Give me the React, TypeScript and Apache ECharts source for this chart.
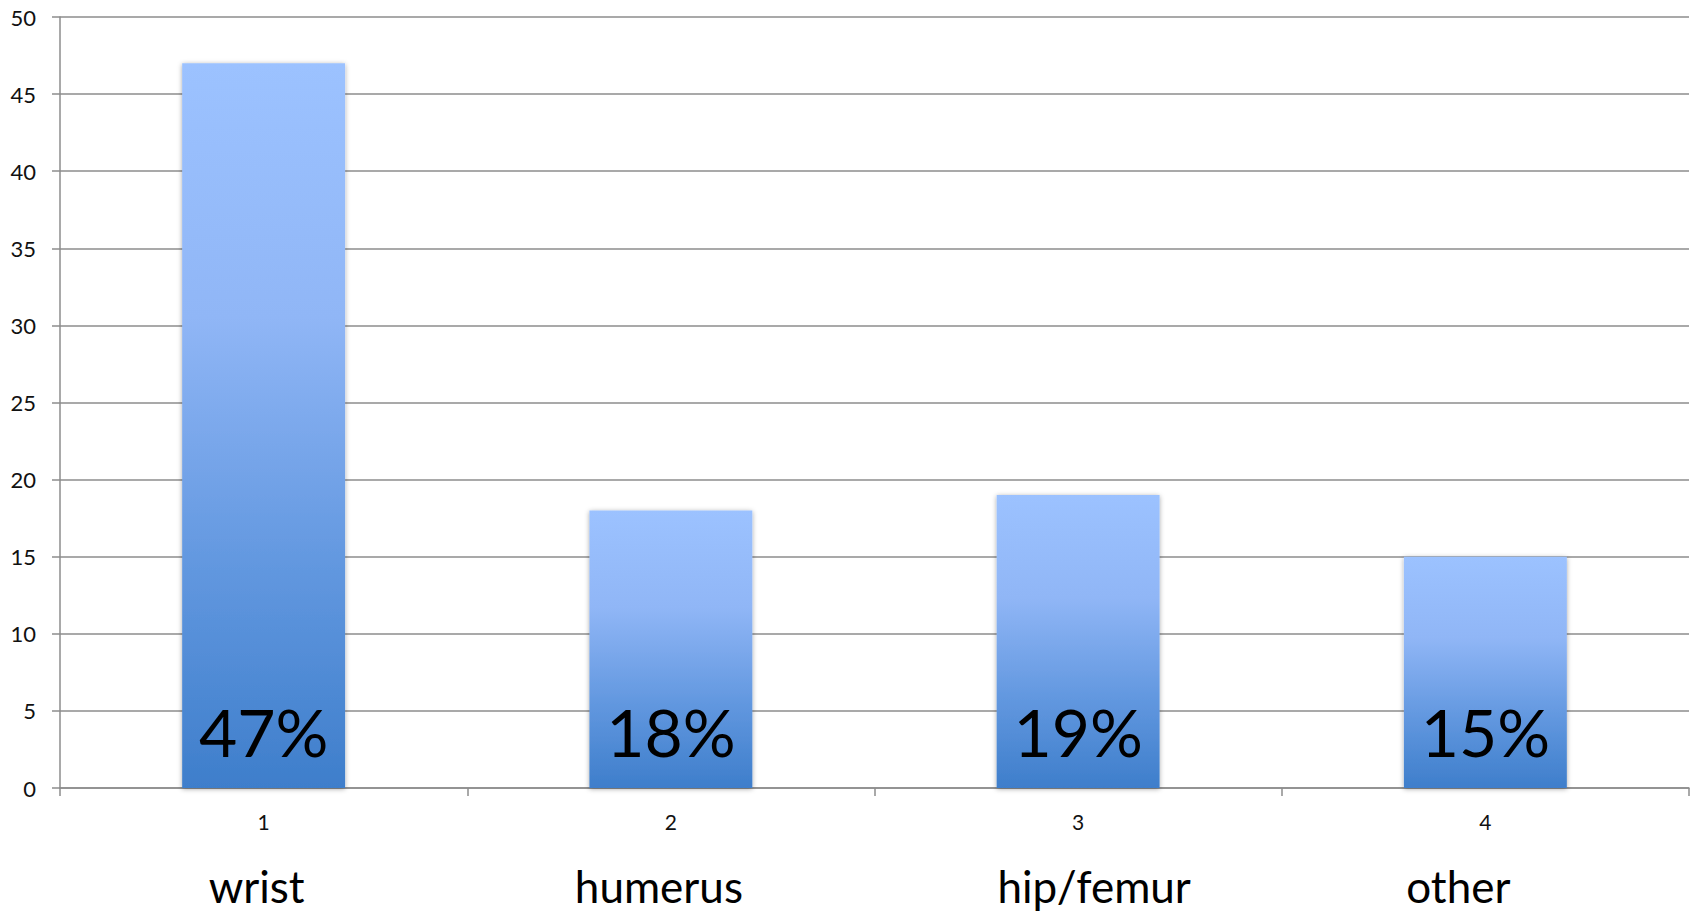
import React, { useEffect, useRef } from "react";
import * as echarts from "echarts";

// Share of fractures by site
const categories = ["1", "2", "3", "4"];
const siteNames = ["wrist", "humerus", "hip/femur", "other"];
const values = [47, 18, 19, 15];
const yTicks = { min: 0, max: 50, interval: 5 };

// horizontal nudge of each site name from its category centre (px)
const nameNudge = [-7, -12, 16, -27];

const FONT = "Lato, 'Open Sans', sans-serif";

export default function App() {
  const ref = useRef<HTMLDivElement>(null);

  useEffect(() => {
    if (!ref.current) return;
    const chart = echarts.init(ref.current, undefined, { renderer: "svg" });

    const barGradient = new echarts.graphic.LinearGradient(0, 0, 0, 1, [
      { offset: 0, color: "#9cc2ff" },
      { offset: 0.35, color: "#90b6f6" },
      { offset: 0.7, color: "#6197df" },
      { offset: 1, color: "#3e7ecb" },
    ]);

    chart.setOption({
      animation: false,
      backgroundColor: "#ffffff",
      grid: { left: 60, right: 9, top: 17, bottom: 123, containLabel: false },
      xAxis: {
        type: "category",
        data: categories,
        axisLine: { lineStyle: { color: "#8c8c8c", width: 1.5 } },
        axisTick: { show: true, length: 8, alignWithLabel: false, lineStyle: { color: "#8c8c8c", width: 1.5 } },
        axisLabel: { color: "#111", fontFamily: FONT, fontSize: 21, margin: 23 },
        splitLine: { show: false },
      },
      yAxis: {
        type: "value",
        min: yTicks.min,
        max: yTicks.max,
        interval: yTicks.interval,
        axisLine: { show: true, lineStyle: { color: "#8c8c8c", width: 1.5 } },
        axisTick: { show: true, length: 8, lineStyle: { color: "#8c8c8c", width: 1.5 } },
        axisLabel: { color: "#111", fontFamily: FONT, fontSize: 22, margin: 24 },
        splitLine: { show: true, lineStyle: { color: "#8c8c8c", width: 1.5 } },
      },
      series: [
        {
          type: "bar",
          data: values,
          barCategoryGap: "60%",
          itemStyle: {
            color: barGradient,
            shadowColor: "rgba(0,0,0,0.35)",
            shadowBlur: 5,
            shadowOffsetY: 1,
          },
          label: {
            show: true,
            position: "insideBottom",
            distance: 24,
            formatter: (p: any) => `${p.value}%`,
            color: "#000",
            fontFamily: FONT,
            fontSize: 66,
          },
        },
      ],
    });

    const nameY = 886;
    chart.setOption({
      graphic: siteNames.map((name, i) => {
        const [cx] = chart.convertToPixel({ xAxisIndex: 0, yAxisIndex: 0 }, [i, 0]) as number[];
        return {
          type: "text",
          x: cx + nameNudge[i],
          y: nameY,
          style: {
            text: name,
            fill: "#000",
            font: `44px ${FONT}`,
            textAlign: "center",
            textVerticalAlign: "middle",
          },
        };
      }),
    });

    return () => chart.dispose();
  }, []);

  return (
    <div
      ref={ref}
      style={{ position: "absolute", left: 0, top: 0, width: 1698, height: 911 }}
    />
  );
}
